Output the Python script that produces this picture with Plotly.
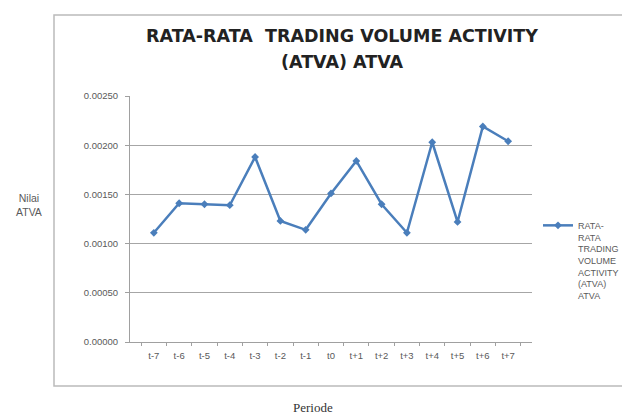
import plotly.graph_objects as go

periode = ["t-7", "t-6", "t-5", "t-4", "t-3", "t-2", "t-1", "t0",
           "t+1", "t+2", "t+3", "t+4", "t+5", "t+6", "t+7"]
atva = [0.00111, 0.00141, 0.00140, 0.00139, 0.00188, 0.00123, 0.00114, 0.00151,
        0.00184, 0.00140, 0.00111, 0.00203, 0.00122, 0.00219, 0.00204]
y_ticks = [0.0, 0.0005, 0.0010, 0.0015, 0.0020, 0.0025]
y_ticklabels = ["0.00000", "0.00050", "0.00100", "0.00150", "0.00200", "0.00250"]

series_name = "RATA-<br>RATA<br>TRADING<br>VOLUME<br>ACTIVITY<br>(ATVA)<br>ATVA"

W, H = 622, 415
L, R, T, B = 130, 90, 96, 73
pw, ph = W - L - R, H - T - B

def px_x(x):
    return (x - L) / pw

def px_y(y):
    return (H - B - y) / ph

tick_font = dict(family="Liberation Sans", size=9.5, color="#5a5a5a")

fig = go.Figure()
fig.add_trace(go.Scatter(
    x=periode, y=atva, mode="lines+markers", name=series_name,
    line=dict(color="#4a7ebb", width=2.5),
    marker=dict(symbol="diamond", size=6, color="#4a7ebb"),
))

fig.update_layout(
    width=W, height=H,
    margin=dict(l=L, r=R, t=T, b=B, autoexpand=False),
    paper_bgcolor="white", plot_bgcolor="white",
    showlegend=True,
    legend=dict(x=px_x(538), y=px_y(213), xanchor="left", yanchor="top",
                font=dict(family="Liberation Sans", size=9, color="#5a5a5a"),
                valign="top", bgcolor="rgba(0,0,0,0)", itemwidth=30,
                tracegroupgap=0),
    title=dict(text="<b>RATA-RATA  TRADING VOLUME ACTIVITY</b>",
               xref="paper", x=px_x(342), xanchor="center",
               yref="container", y=1 - 36 / H, yanchor="middle",
               font=dict(family="DejaVu Sans", size=17.5, color="#222222")),
    xaxis=dict(type="category", tickson="boundaries", ticks="outside", ticklen=3,
               tickcolor="#a0a0a0", showline=True, linecolor="#a0a0a0", linewidth=1,
               showgrid=False, tickfont=tick_font, ticklabelstandoff=5),
    yaxis=dict(range=[0, 0.0025], tickvals=y_ticks, ticktext=y_ticklabels,
               ticks="outside", ticklen=4, tickcolor="#a0a0a0",
               showline=True, linecolor="#a0a0a0", linewidth=1,
               showgrid=True, gridcolor="#a6a6a6", gridwidth=1,
               zeroline=False, tickfont=tick_font, ticklabelstandoff=5),
    shapes=[dict(type="rect", xref="paper", yref="paper",
                 x0=px_x(54), x1=px_x(640), y0=px_y(386), y1=px_y(15),
                 line=dict(color="#bbbbbb", width=1.5), fillcolor="rgba(0,0,0,0)",
                 layer="below")],
    annotations=[
        dict(text="<b>(ATVA) ATVA</b>", xref="paper", yref="paper",
             x=px_x(342), y=px_y(62), xanchor="center", yanchor="middle",
             showarrow=False,
             font=dict(family="DejaVu Sans", size=17.5, color="#222222")),
        dict(text="Nilai<br>ATVA", xref="paper", yref="paper",
             x=px_x(29), y=px_y(205), xanchor="center", yanchor="middle",
             showarrow=False,
             font=dict(family="Liberation Sans", size=10.5, color="#5a5a5a")),
        dict(text="Periode", xref="paper", yref="paper",
             x=px_x(313), y=px_y(407), xanchor="center", yanchor="middle",
             showarrow=False,
             font=dict(family="Liberation Serif", size=13, color="#333333")),
    ],
)

fig.write_html("out.html")
